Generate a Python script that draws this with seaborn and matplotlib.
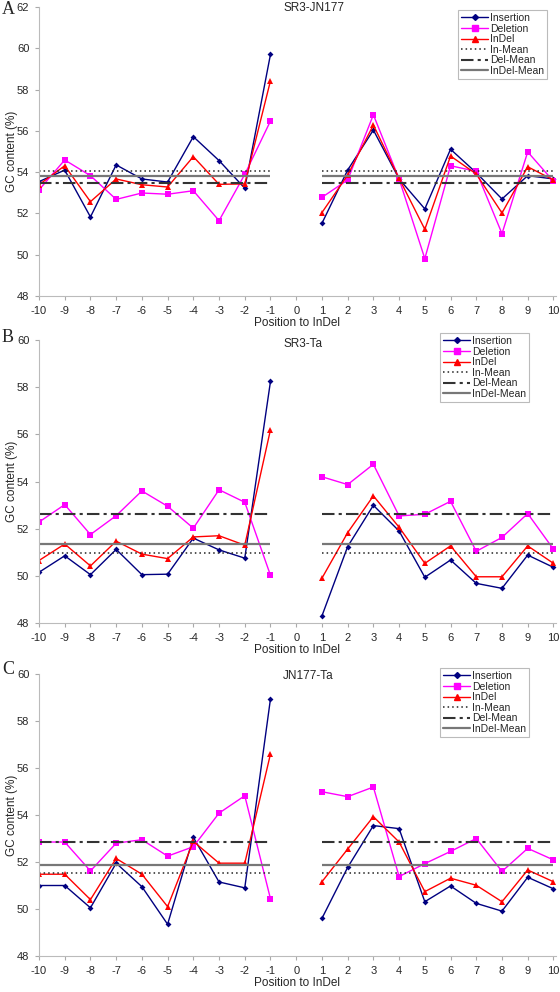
import numpy as np
import pandas as pd
import seaborn as sns
import matplotlib
matplotlib.use("Agg")
import matplotlib.pyplot as plt
from matplotlib.lines import Line2D

# positions around the InDel (no 0)
positions = list(range(-10, 0)) + list(range(1, 11))
sides = ['up'] * 10 + ['down'] * 10

# A: SR3-JN177
ins_A = [53.54, 54.10, 51.83, 54.35, 53.67, 53.52, 55.72, 54.56, 53.22, 59.71,
         51.52, 54.10, 56.04, 53.67, 52.22, 55.11, 53.97, 52.70, 53.83, 53.67]
del_A = [53.14, 54.59, 53.83, 52.68, 52.99, 52.93, 53.10, 51.65, 53.89, 56.48,
         52.78, 53.62, 56.78, 53.67, 49.81, 54.31, 54.04, 51.02, 54.98, 53.56]
indel_A = [53.39, 54.31, 52.57, 53.67, 53.39, 53.28, 54.75, 53.41, 53.43, 58.43,
           52.04, 53.86, 56.28, 53.70, 51.23, 54.78, 53.91, 52.02, 54.26, 53.62]
means_A = [54.06, 53.48, 53.81]   # In, Del, InDel

# B: SR3-Ta
ins_B = [50.15, 50.85, 50.05, 51.12, 50.05, 50.07, 51.60, 51.10, 50.75, 58.25,
         48.30, 51.24, 52.99, 51.90, 49.94, 50.67, 49.68, 49.47, 50.88, 50.36]
del_B = [52.28, 53.02, 51.75, 52.55, 53.60, 52.95, 52.02, 53.65, 53.12, 50.02,
         54.20, 53.87, 54.73, 52.54, 52.61, 53.16, 51.04, 51.63, 52.64, 51.13]
indel_B = [50.65, 51.35, 50.42, 51.47, 50.92, 50.73, 51.65, 51.70, 51.30, 56.20,
           49.90, 51.83, 53.39, 52.06, 50.53, 51.27, 49.96, 49.96, 51.27, 50.53]
means_B = [50.98, 52.62, 51.37]

# C: JN177-Ta
ins_C = [51.00, 51.00, 50.05, 51.95, 50.95, 49.35, 53.05, 51.15, 50.90, 58.95,
         49.60, 51.77, 53.55, 53.42, 50.31, 50.98, 50.24, 49.91, 51.35, 50.86]
del_C = [52.85, 52.85, 51.62, 52.80, 52.95, 52.25, 52.65, 54.08, 54.82, 50.43,
         54.99, 54.78, 55.19, 51.38, 51.93, 52.45, 53.00, 51.60, 52.58, 52.09]
indel_C = [51.48, 51.48, 50.40, 52.15, 51.48, 50.10, 52.88, 51.95, 51.95, 56.60,
           51.16, 52.55, 53.93, 52.85, 50.74, 51.31, 51.01, 50.31, 51.66, 51.16]
means_C = [51.53, 52.87, 51.87]

panels = [
    ('A', 'SR3-JN177', ins_A, del_A, indel_A, means_A, 62),
    ('B', 'SR3-Ta', ins_B, del_B, indel_B, means_B, 60),
    ('C', 'JN177-Ta', ins_C, del_C, indel_C, means_C, 60),
]

series_style = {
    'Insertion': dict(color='#000080', marker='D', markersize=3),
    'Deletion': dict(color='#FF00FF', marker='s', markersize=4),
    'InDel': dict(color='#FF0000', marker='^', markersize=4),
}
mean_style = [
    ('In-Mean', dict(color='#222222', ls=(0, (1, 2)), lw=1.1)),
    ('Del-Mean', dict(color='#333333', ls=(0, (6, 2, 1.5, 2)), lw=1.5)),
    ('InDel-Mean', dict(color='#777777', ls='-', lw=1.6)),
]

sns.set_theme(style="ticks")
plt.rcParams['font.family'] = ['Liberation Sans', 'DejaVu Sans']
plt.rcParams['axes.unicode_minus'] = False

W, H = 560, 992
fig = plt.figure(figsize=(W / 100, H / 100), dpi=100)

# axes boxes in pixels: (left, top, right, bottom)
boxes = [(39, 7, 556, 296), (39, 340, 556, 623), (39, 674, 556, 956)]
titles_y = [8, 344, 676]
letters_y = [9, 337, 669]
legend_pos = [(458, 10), (440, 333), (440, 668)]

for (letter, title, ins, dels, indel, means, ytop), box, ty, ly, lp in zip(
        panels, boxes, titles_y, letters_y, legend_pos):
    l, t, r, b = box
    ax = fig.add_axes([l / W, 1 - b / H, (r - l) / W, (b - t) / H])
    df = pd.DataFrame({
        'position': positions * 3,
        'gc': ins + dels + indel,
        'series': ['Insertion'] * 20 + ['Deletion'] * 20 + ['InDel'] * 20,
        'side': sides * 3,
    })
    for name in ['Insertion', 'Deletion', 'InDel']:
        st = series_style[name]
        sns.lineplot(data=df[df.series == name], x='position', y='gc', units='side',
                     estimator=None, color=st['color'], marker=st['marker'],
                     markersize=st['markersize'], markeredgewidth=0, lw=1.0,
                     legend=False, ax=ax, sort=False)
    for (mname, ms), m in zip(mean_style, means):
        for x0, x1 in [(positions[0], positions[9]), (positions[10], positions[19])]:
            ax.hlines(m, x0, x1, colors=ms['color'], linestyles=[ms['ls']], lw=ms['lw'])

    ax.set_xlim(-10, 10.1)
    ax.set_ylim(48, ytop)
    ax.set_xticks(range(-10, 11))
    ax.set_xticklabels([str(v) for v in range(-10, 11)])
    ax.set_yticks(range(48, ytop + 1, 2))
    ax.tick_params(axis='both', labelsize=8, length=3, width=0.8, color='#AAAAAA', pad=4)
    ax.set_xlabel('Position to InDel', fontsize=8.5, labelpad=1)
    ax.set_ylabel('GC content (%)', fontsize=8.5)
    ax.yaxis.set_label_coords(-0.041, 0.5)
    for sp in ['top', 'right']:
        ax.spines[sp].set_visible(False)
    for sp in ['left', 'bottom']:
        ax.spines[sp].set_color('#BBBBBB')
        ax.spines[sp].set_linewidth(0.8)

    fig.text(283 / W, 1 - ty / H, title, fontsize=8.5, va='center', ha='left')
    fig.text(2 / W, 1 - ly / H, letter, fontsize=13, va='center', ha='left',
             family=['Liberation Serif', 'DejaVu Serif'])

    handles = [Line2D([], [], lw=1.0, **series_style[n]) for n in ['Insertion', 'Deletion', 'InDel']]
    handles += [Line2D([], [], color=ms['color'], ls=ms['ls'], lw=ms['lw']) for _, ms in mean_style]
    labels = ['Insertion', 'Deletion', 'InDel', 'In-Mean', 'Del-Mean', 'InDel-Mean']
    leg = ax.legend(handles, labels, loc='upper left',
                    bbox_to_anchor=(lp[0] / W, 1 - lp[1] / H), bbox_transform=fig.transFigure,
                    fontsize=7.5, frameon=True, fancybox=False, framealpha=1,
                    edgecolor='#BBBBBB', handlelength=2.6, handletextpad=0.2,
                    labelspacing=0.05, borderpad=0.3, borderaxespad=0)
    leg.get_frame().set_linewidth(0.8)

fig.savefig('out.png', dpi=100)
